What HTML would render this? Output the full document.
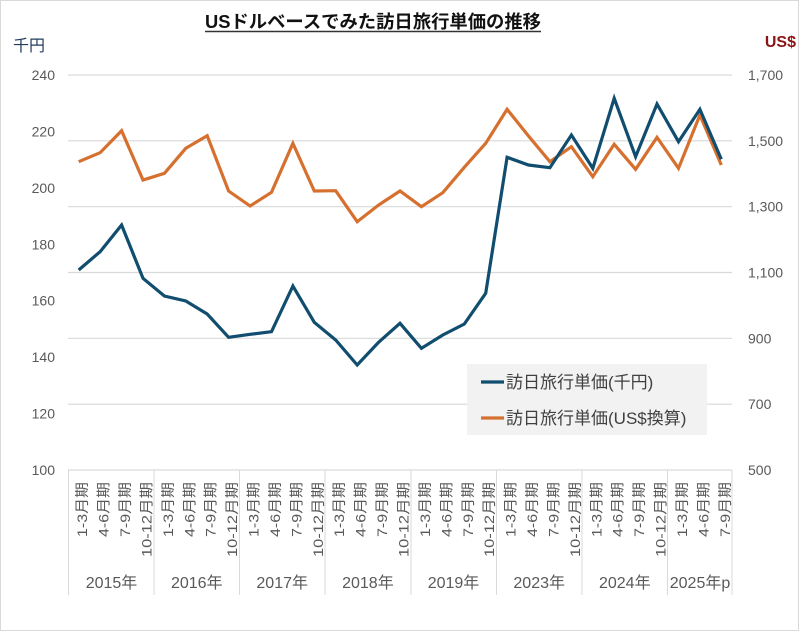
<!DOCTYPE html>
<html>
<head>
<meta charset="utf-8">
<style>
html,body{margin:0;padding:0;background:#fff;}
svg{display:block;}
text{font-family:"Liberation Sans","Noto Sans CJK JP",sans-serif;}
</style>
</head>
<body>
<svg width="800" height="632" viewBox="0 0 800 632" xmlns="http://www.w3.org/2000/svg">
<rect x="0" y="0" width="800" height="632" fill="#fff"/>
<rect x="0.5" y="0.5" width="798" height="630" fill="none" stroke="#d9d9d9" stroke-width="1"/>

<!-- title -->
<text x="373" y="28" text-anchor="middle" font-size="18" font-weight="bold" fill="#111" textLength="336" lengthAdjust="spacingAndGlyphs">USドルベースでみた訪日旅行単価の推移</text>
<line x1="205" y1="31.5" x2="541" y2="31.5" stroke="#333" stroke-width="1.5"/>

<text x="13" y="51" font-size="16" fill="#1f3b5a">千円</text>
<text x="796" y="47" text-anchor="end" font-size="16" font-weight="bold" fill="#8b1414">US$</text>

<!-- gridlines -->
<g stroke="#d9d9d9" stroke-width="1.2">
<line x1="68" y1="75" x2="732" y2="75"/>
<line x1="68" y1="140.8" x2="732" y2="140.8"/>
<line x1="68" y1="206.7" x2="732" y2="206.7"/>
<line x1="68" y1="272.5" x2="732" y2="272.5"/>
<line x1="68" y1="338.3" x2="732" y2="338.3"/>
<line x1="68" y1="404.2" x2="732" y2="404.2"/>
<line x1="68" y1="470" x2="732" y2="470"/>
</g>
<!-- category separators -->
<g stroke="#d9d9d9" stroke-width="1">
<line x1="68.5" y1="470" x2="68.5" y2="595"/>
<line x1="154" y1="470" x2="154" y2="595"/>
<line x1="239.5" y1="470" x2="239.5" y2="595"/>
<line x1="325" y1="470" x2="325" y2="595"/>
<line x1="411" y1="470" x2="411" y2="595"/>
<line x1="496.5" y1="470" x2="496.5" y2="595"/>
<line x1="582" y1="470" x2="582" y2="595"/>
<line x1="667.5" y1="470" x2="667.5" y2="595"/>
<line x1="732" y1="470" x2="732" y2="595"/>
</g>

<!-- left axis labels -->
<g font-size="14" fill="#595959" text-anchor="end">
<text x="55" y="80">240</text>
<text x="55" y="136.4">220</text>
<text x="55" y="192.9">200</text>
<text x="55" y="249.3">180</text>
<text x="55" y="305.7">160</text>
<text x="55" y="362.1">140</text>
<text x="55" y="418.6">120</text>
<text x="55" y="475">100</text>
</g>
<!-- right axis labels -->
<g font-size="14" fill="#595959">
<text x="748" y="80">1,700</text>
<text x="748" y="145.8">1,500</text>
<text x="748" y="211.7">1,300</text>
<text x="748" y="277.5">1,100</text>
<text x="748" y="343.3">900</text>
<text x="748" y="409.2">700</text>
<text x="748" y="475">500</text>
</g>

<!-- category labels -->
<g font-size="14" fill="#595959" text-anchor="end">
<text transform="translate(87.2,482) rotate(-90)" textLength="55" lengthAdjust="spacingAndGlyphs">1-3月期</text>
<text transform="translate(108.6,482) rotate(-90)" textLength="55" lengthAdjust="spacingAndGlyphs">4-6月期</text>
<text transform="translate(130.0,482) rotate(-90)" textLength="55" lengthAdjust="spacingAndGlyphs">7-9月期</text>
<text transform="translate(151.5,482) rotate(-90)" textLength="75" lengthAdjust="spacingAndGlyphs">10-12月期</text>
<text transform="translate(172.9,482) rotate(-90)" textLength="55" lengthAdjust="spacingAndGlyphs">1-3月期</text>
<text transform="translate(194.3,482) rotate(-90)" textLength="55" lengthAdjust="spacingAndGlyphs">4-6月期</text>
<text transform="translate(215.7,482) rotate(-90)" textLength="55" lengthAdjust="spacingAndGlyphs">7-9月期</text>
<text transform="translate(237.1,482) rotate(-90)" textLength="75" lengthAdjust="spacingAndGlyphs">10-12月期</text>
<text transform="translate(258.6,482) rotate(-90)" textLength="55" lengthAdjust="spacingAndGlyphs">1-3月期</text>
<text transform="translate(280.0,482) rotate(-90)" textLength="55" lengthAdjust="spacingAndGlyphs">4-6月期</text>
<text transform="translate(301.4,482) rotate(-90)" textLength="55" lengthAdjust="spacingAndGlyphs">7-9月期</text>
<text transform="translate(322.8,482) rotate(-90)" textLength="75" lengthAdjust="spacingAndGlyphs">10-12月期</text>
<text transform="translate(344.2,482) rotate(-90)" textLength="55" lengthAdjust="spacingAndGlyphs">1-3月期</text>
<text transform="translate(365.7,482) rotate(-90)" textLength="55" lengthAdjust="spacingAndGlyphs">4-6月期</text>
<text transform="translate(387.1,482) rotate(-90)" textLength="55" lengthAdjust="spacingAndGlyphs">7-9月期</text>
<text transform="translate(408.5,482) rotate(-90)" textLength="75" lengthAdjust="spacingAndGlyphs">10-12月期</text>
<text transform="translate(429.9,482) rotate(-90)" textLength="55" lengthAdjust="spacingAndGlyphs">1-3月期</text>
<text transform="translate(451.3,482) rotate(-90)" textLength="55" lengthAdjust="spacingAndGlyphs">4-6月期</text>
<text transform="translate(472.8,482) rotate(-90)" textLength="55" lengthAdjust="spacingAndGlyphs">7-9月期</text>
<text transform="translate(494.2,482) rotate(-90)" textLength="75" lengthAdjust="spacingAndGlyphs">10-12月期</text>
<text transform="translate(515.6,482) rotate(-90)" textLength="55" lengthAdjust="spacingAndGlyphs">1-3月期</text>
<text transform="translate(537.0,482) rotate(-90)" textLength="55" lengthAdjust="spacingAndGlyphs">4-6月期</text>
<text transform="translate(558.4,482) rotate(-90)" textLength="55" lengthAdjust="spacingAndGlyphs">7-9月期</text>
<text transform="translate(579.9,482) rotate(-90)" textLength="75" lengthAdjust="spacingAndGlyphs">10-12月期</text>
<text transform="translate(601.3,482) rotate(-90)" textLength="55" lengthAdjust="spacingAndGlyphs">1-3月期</text>
<text transform="translate(622.7,482) rotate(-90)" textLength="55" lengthAdjust="spacingAndGlyphs">4-6月期</text>
<text transform="translate(644.1,482) rotate(-90)" textLength="55" lengthAdjust="spacingAndGlyphs">7-9月期</text>
<text transform="translate(665.5,482) rotate(-90)" textLength="75" lengthAdjust="spacingAndGlyphs">10-12月期</text>
<text transform="translate(687.0,482) rotate(-90)" textLength="55" lengthAdjust="spacingAndGlyphs">1-3月期</text>
<text transform="translate(708.4,482) rotate(-90)" textLength="55" lengthAdjust="spacingAndGlyphs">4-6月期</text>
<text transform="translate(729.8,482) rotate(-90)" textLength="55" lengthAdjust="spacingAndGlyphs">7-9月期</text>
</g>
<!-- year labels -->
<g font-size="16" fill="#595959" text-anchor="middle">
<text x="111.5" y="588">2015年</text>
<text x="196.8" y="588">2016年</text>
<text x="282.2" y="588">2017年</text>
<text x="367.9" y="588">2018年</text>
<text x="453.5" y="588">2019年</text>
<text x="539.2" y="588">2023年</text>
<text x="624.8" y="588">2024年</text>
<text x="700" y="588">2025年p</text>
</g>

<!-- series -->
<polyline fill="none" stroke="#d6702f" stroke-width="3.2" stroke-linejoin="miter" points="78.7,161.7 100.1,152.7 121.6,130.7 143.0,180 164.4,173.3 185.8,148.3 207.2,135.7 228.6,191 250.1,206 271.5,192.3 292.9,143.3 314.3,191 335.7,190.7 357.2,221.7 378.6,205 400.0,191 421.4,206.7 442.8,192.7 464.3,167.3 485.7,143.3 507.1,109.3 528.5,136 549.9,161.7 571.4,146.7 592.8,176.7 614.2,144.3 635.6,169.3 657.0,137.3 678.5,168.3 699.9,115 721.3,165"/>
<polyline fill="none" stroke="#104d6e" stroke-width="3.2" stroke-linejoin="miter" points="78.7,270 100.1,251.7 121.6,225 143.0,278.3 164.4,296 185.8,301 207.2,314 228.6,337.3 250.1,334.3 271.5,331.7 292.9,286 314.3,322.3 335.7,340 357.2,365 378.6,342.3 400.0,323.3 421.4,348.3 442.8,335 464.3,324 485.7,293.3 507.1,157.3 528.5,165 549.9,167.7 571.4,135 592.8,168.3 614.2,98.3 635.6,156.7 657.0,104 678.5,141.7 699.9,109.3 721.3,159.3"/>

<!-- legend -->
<rect x="467" y="364" width="240" height="71" fill="#f2f2f2"/>
<line x1="481" y1="382" x2="504" y2="382" stroke="#104d6e" stroke-width="3.2"/>
<line x1="481" y1="418" x2="504" y2="418" stroke="#d6702f" stroke-width="3.2"/>
<text x="506" y="388" font-size="17" fill="#404040">訪日旅行単価(千円)</text>
<text x="506" y="424" font-size="17" fill="#404040">訪日旅行単価(US$換算)</text>
</svg>
</body>
</html>
